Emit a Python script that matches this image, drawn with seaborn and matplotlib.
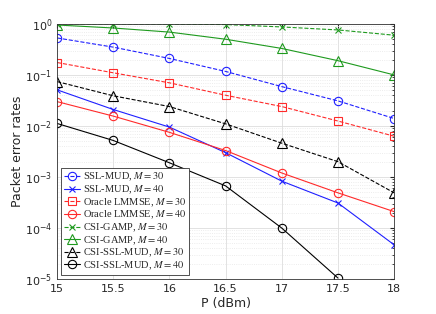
import numpy as np
import pandas as pd
import matplotlib
matplotlib.use("Agg")
import matplotlib.pyplot as plt
import seaborn as sns

power = [15, 15.5, 16, 16.5, 17, 17.5, 18]

ssl_m30 = [0.53, 0.35, 0.21, 0.117, 0.059, 0.031, 0.014]
ssl_m40 = [0.051, 0.021, 0.0095, 0.003, 0.00083, 0.00031, 0.000047]
lmmse_m30 = [0.175, 0.11, 0.07, 0.04, 0.024, 0.0125, 0.0063]
lmmse_m40 = [0.030, 0.0156, 0.0075, 0.0033, 0.0012, 0.00049, 0.00021]
gamp_m30 = [1.0, 1.0, 0.99, 0.97, 0.87, 0.76, 0.6]
gamp_m40 = [0.95, 0.83, 0.69, 0.5, 0.33, 0.19, 0.10]
csissl_m30 = [0.074, 0.039, 0.024, 0.011, 0.0046, 0.002, 0.00049]
csissl_m40 = [0.0112, 0.0052, 0.0019, 0.00067, 0.0001, 0.0000105, np.nan]

labels = [
    r"SSL-MUD, $M=30$",
    r"SSL-MUD, $M=40$",
    r"Oracle LMMSE, $M=30$",
    r"Oracle LMMSE, $M=40$",
    r"CSI-GAMP, $M=30$",
    r"CSI-GAMP, $M=40$",
    r"CSI-SSL-MUD, $M=30$",
    r"CSI-SSL-MUD, $M=40$",
]
series = [ssl_m30, ssl_m40, lmmse_m30, lmmse_m40, gamp_m30, gamp_m40, csissl_m30, csissl_m40]

# colour, linestyle, marker per curve
styles = [
    ("#1f1fff", "--", "o"),
    ("#1f1fff", "-", "x"),
    ("#ff2a2a", "--", "s"),
    ("#ff2a2a", "-", "o"),
    ("#1e9a1e", "--", "x"),
    ("#1e9a1e", "-", "^"),
    ("#000000", "--", "^"),
    ("#000000", "-", "o"),
]
msizes = {"o": 6, "s": 5.5, "^": 6.5, "x": 4.5}

sns.set_style("white")
plt.rcParams["font.family"] = ["DejaVu Sans"]
plt.rcParams["mathtext.fontset"] = "stix"

fig = plt.figure(figsize=(4.36, 3.14), dpi=100)
ax = fig.add_axes([0.131, 0.111, 0.773, 0.813])

for vals, lab, (c, ls, mk) in zip(series, labels, styles):
    df = pd.DataFrame({"P": power, "PER": vals}).dropna()
    sns.lineplot(data=df, x="P", y="PER", ax=ax, color=c, linestyle=ls, marker=mk,
                 markersize=msizes[mk], markerfacecolor="none",
                 markeredgecolor=c, markeredgewidth=0.8, linewidth=0.8, label=lab)

ax.set_yscale("log")
ax.set_xlim(15, 18)
ax.set_ylim(1e-5, 1)
ax.set_xticks(power)
ax.set_xticklabels(["15", "15.5", "16", "16.5", "17", "17.5", "18"])
ax.tick_params(axis="both", which="both", direction="in", top=True, right=True, labelsize=8)
ax.tick_params(which="major", length=3)
ax.tick_params(which="minor", length=1.5)
ax.grid(True, which="major", color="#dddddd", linewidth=0.6)
ax.grid(True, which="minor", color="#e6e6e6", linestyle=":", linewidth=0.6)
for sp in ax.spines.values():
    sp.set_color("#333333")
    sp.set_linewidth(0.6)

ax.set_xlabel("P (dBm)", fontsize=9, labelpad=2)
ax.set_ylabel("Packet error rates", fontsize=9, labelpad=1)

leg = ax.legend(loc="lower left", prop={"family": "Liberation Serif", "size": 7.5},
                frameon=True, fancybox=False, edgecolor="#333333", framealpha=1,
                handlelength=1.5, handletextpad=0.3, labelspacing=0.02,
                borderpad=0.3, borderaxespad=0.4)
leg.get_frame().set_linewidth(0.6)

fig.savefig("out.png", dpi=100)
